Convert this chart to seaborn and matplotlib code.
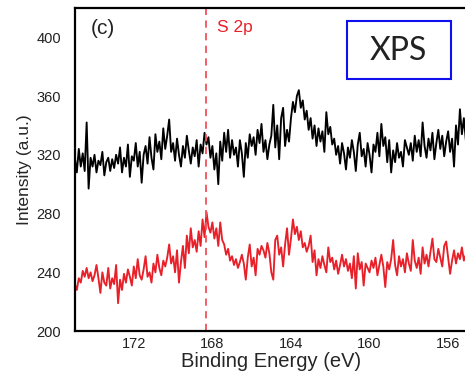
import numpy as np
import pandas as pd
import seaborn as sns
import matplotlib
matplotlib.use("Agg")
import matplotlib.pyplot as plt
from matplotlib.patches import Rectangle

# Binding energy sampling grid (eV), 0.1 eV steps from 175.0 down to 155.1
energy = np.round(np.linspace(175.0, 155.1, 200), 2)

sample_top = [
    318, 308, 324, 312, 321, 309, 342, 297, 318, 312,
    320, 308, 316, 313, 322, 306, 315, 318, 309, 317,
    311, 320, 314, 325, 308, 318, 312, 327, 305, 319,
    316, 328, 312, 322, 301, 320, 326, 314, 332, 318,
    310, 334, 322, 329, 317, 338, 324, 333, 344, 322,
    328, 316, 331, 320, 312, 326, 318, 333, 323, 314,
    325, 319, 330, 312, 327, 321, 335, 327, 332, 318,
    326, 310, 321, 300, 329, 316, 335, 322, 337, 318,
    330, 320, 325, 312, 330, 321, 305, 328, 318, 334,
    326, 332, 320, 337, 328, 341, 322, 330, 317, 327,
    333, 354, 325, 340, 317, 345, 352, 326, 337, 329,
    345, 356, 349, 360, 364, 352, 357, 344, 350, 337,
    345, 331, 340, 326, 338, 329, 336, 322, 349, 334,
    339, 327, 331, 320, 326, 314, 328, 321, 310, 325,
    318, 330, 322, 309, 327, 335, 319, 324, 312, 328,
    320, 308, 327, 322, 335, 319, 341, 326, 332, 315,
    330, 308, 323, 315, 328, 318, 322, 312, 330, 325,
    320, 328, 316, 333, 322, 330, 319, 342, 326, 318,
    331, 323, 335, 317, 328, 337, 324, 333, 319, 329,
    336, 322, 331, 312, 340, 327, 351, 334, 345, 330,
]

sample_bottom = [
    232, 228, 236, 233, 241, 237, 243, 236, 240, 234,
    238, 245, 236, 226, 240, 233, 231, 243, 229, 236,
    232, 245, 219, 235, 228, 239, 233, 242, 237, 231,
    244, 236, 249, 238, 235, 242, 251, 237, 240, 233,
    246, 240, 252, 243, 238, 248, 244, 250, 259, 246,
    251, 240, 255, 233, 247, 258, 243, 265, 253, 270,
    257, 262, 254, 268, 258, 276, 264, 281, 271, 267,
    274, 263, 270, 258, 274, 262, 259, 252, 256, 248,
    251, 245, 249, 243, 247, 252, 246, 235, 250, 259,
    244, 250, 238, 256, 252, 258, 255, 250, 260, 253,
    240, 235, 262, 265, 252, 257, 244, 259, 270, 252,
    263, 276, 266, 271, 262, 268, 257, 260, 254, 258,
    265, 247, 255, 238, 249, 243, 251, 245, 240, 257,
    247, 250, 242, 248, 239, 245, 252, 244, 249, 241,
    246, 236, 251, 229, 253, 242, 247, 231, 246, 243,
    240, 248, 243, 250, 238, 245, 252, 244, 230, 247,
    242, 249, 262, 245, 238, 251, 244, 249, 240, 253,
    246, 241, 262, 248, 243, 250, 239, 257, 246, 252,
    244, 254, 263, 249, 247, 256, 250, 244, 258, 261,
    250, 239, 248, 255, 246, 253, 249, 257, 248, 252,
]

s2p_position = 168.3
x_ticks = [172, 168, 164, 160, 156]
y_ticks = [200, 240, 280, 320, 360, 400]

sns.set_theme(style="white")
plt.rcParams["font.family"] = ["Liberation Sans", "DejaVu Sans"]

df = pd.DataFrame({
    "energy": np.concatenate([energy, energy]),
    "intensity": sample_top + sample_bottom,
    "series": ["top"] * len(energy) + ["bottom"] * len(energy),
})

fig = plt.figure(figsize=(4.65, 3.75), dpi=100)
ax = fig.add_axes([0.161, 0.117, 0.845, 0.862])

sns.lineplot(data=df, x="energy", y="intensity", hue="series",
             palette={"top": "black", "bottom": "#e8202a"},
             linewidth=1.35, legend=False, ax=ax, sort=False, estimator=None)

ax.axvline(s2p_position, color="#f2525c", linestyle=(0, (4, 3)), linewidth=1.3)

ax.set_xlim(175, 155)
ax.set_ylim(200, 420)
ax.set_xticks(x_ticks)
ax.set_yticks(y_ticks)
ax.tick_params(axis="x", direction="in", length=7, width=1.2, labelsize=10.5, pad=4, colors="black")
ax.tick_params(axis="y", direction="out", length=8, width=1.2, labelsize=10.5, pad=2, colors="black")
for lab in ax.get_xticklabels() + ax.get_yticklabels():
    lab.set_color("#222222")

for side in ["left", "top", "bottom"]:
    ax.spines[side].set_visible(True)
    ax.spines[side].set_color("black")
    ax.spines[side].set_linewidth(1.6)
ax.spines["right"].set_visible(False)

ax.set_xlabel("Binding Energy (eV)", fontsize=14.5, labelpad=1)
ax.set_ylabel("Intensity (a.u.)", fontsize=12.5, labelpad=3)

ax.text(0.04, 0.965, "(c)", transform=ax.transAxes, fontsize=15, va="top", ha="left", color="#222222")
ax.text(167.75, 412, "S 2p", fontsize=12.5, color="#e8202a", va="top", ha="left")

ax.add_patch(Rectangle((0.692, 0.78), 0.265, 0.18, transform=ax.transAxes,
                       fill=False, edgecolor="#1010ee", linewidth=1.5))
ax.text(0.8245, 0.868, "XPS", transform=ax.transAxes, fontsize=23, ha="center", va="center",
        color="#222222", family=["Lato", "DejaVu Sans"])

fig.savefig("out.png", dpi=100)
